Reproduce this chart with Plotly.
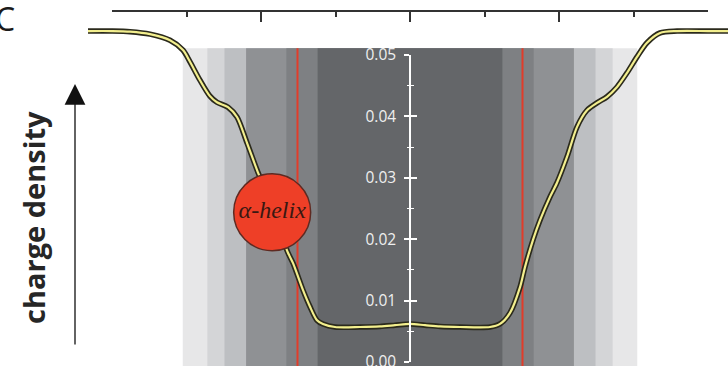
import plotly.graph_objects as go

# ---- data ----
# depth across the membrane (Å) and charge density
depth = [-43.22, -40.0, -37.58, -34.90, -32.21, -30.47, -29.53, -28.19, -26.85, -25.91,
         -24.43, -23.22, -21.88, -20.54, -19.46, -18.52, -17.45, -16.38, -15.70, -14.36,
         -13.42, -12.48, -11.68, -10.07, -6.71, -4.03, -2.01, 0.0, 2.01, 4.03,
         6.71, 10.74, 12.08, 13.42, 14.77, 15.44, 16.51, 17.45, 18.79, 19.73,
         21.07, 22.42, 23.76, 25.10, 26.44, 27.79, 29.13, 30.47, 31.81, 33.56,
         35.84, 40.0, 42.68]
density = [0.0539, 0.0539, 0.0538, 0.0534, 0.0524, 0.0508, 0.0489, 0.0459, 0.0433, 0.0423,
           0.0415, 0.0399, 0.0357, 0.0313, 0.0280, 0.0248, 0.0212, 0.0178, 0.0161, 0.0117,
           0.0090, 0.0068, 0.0062, 0.0057, 0.0057, 0.0058, 0.0060, 0.0062, 0.0060, 0.0058,
           0.0057, 0.0057, 0.0062, 0.0080, 0.0122, 0.0155, 0.0199, 0.0231, 0.0269, 0.0292,
           0.0334, 0.0383, 0.0410, 0.0422, 0.0432, 0.0448, 0.0471, 0.0497, 0.0520, 0.0536,
           0.0539, 0.0539, 0.0539]

# membrane region bands (half-widths in Å) and their shades, outer -> inner
band_halfwidth = [30.5, 27.2, 24.9, 22.0, 16.6, 12.4]
band_color = ["#e7e7e8", "#d4d5d7", "#bdbfc2", "#8f9194", "#7e8083", "#646669"]
band_top = 0.0511
red_lines = [-15.1, 15.1]

helix_pos = (-18.5, 0.0244)
helix_label = "α-helix"

density_ticks = [0.00, 0.01, 0.02, 0.03, 0.04, 0.05]

# ---- figure ----
W, H = 728, 366
X_RANGE = [-55.03, 42.68]
Y_RANGE = [-0.00065, 0.05896]

fig = go.Figure()

# density profile: dark outline + yellow core
fig.add_trace(go.Scatter(x=depth, y=density, mode="lines",
                         line=dict(color="#2b2a1c", width=5.5, shape="spline", smoothing=0.8),
                         hoverinfo="skip"))
fig.add_trace(go.Scatter(x=depth, y=density, mode="lines",
                         line=dict(color="#f3ef8e", width=2.2, shape="spline", smoothing=0.8),
                         hoverinfo="skip"))

# alpha-helix marker
fig.add_trace(go.Scatter(x=[helix_pos[0]], y=[helix_pos[1]], mode="markers+text",
                         marker=dict(size=77, color="#ee3f27",
                                     line=dict(color="#5e2a22", width=1.5)),
                         text=[helix_label], textposition="middle center",
                         textfont=dict(family="Liberation Serif", size=24,
                                       color="#3a1812", style="italic"),
                         hoverinfo="skip"))

# dummy traces to make the decorative axes render
fig.add_trace(go.Scatter(x=[None], y=[None], xaxis="x2", yaxis="y", showlegend=False))
fig.add_trace(go.Scatter(x=[None], y=[None], xaxis="x", yaxis="y2", showlegend=False))
fig.add_trace(go.Scatter(x=[None], y=[None], xaxis="x", yaxis="y3", showlegend=False))

shapes = []
for hw, col in zip(band_halfwidth, band_color):
    shapes.append(dict(type="rect", xref="x", yref="y", x0=-hw, x1=hw,
                       y0=Y_RANGE[0] - 0.001, y1=band_top,
                       fillcolor=col, line=dict(width=0), layer="below"))
for xr in red_lines:
    shapes.append(dict(type="line", xref="x", yref="y", x0=xr, x1=xr,
                       y0=Y_RANGE[0] - 0.001, y1=band_top,
                       line=dict(color="#e23c2a", width=2), layer="below"))

annotations = [
    dict(text="C", xref="paper", yref="paper", x=5 / W, y=1 - 18 / H,
         xanchor="center", yanchor="middle", showarrow=False,
         font=dict(family="Open Sans", size=32, color="#1a1a1a")),
    dict(text="charge density", xref="paper", yref="paper", x=33 / W, y=1 - 218 / H,
         xanchor="center", yanchor="middle", textangle=-90, showarrow=False,
         font=dict(family="Open Sans", size=29, color="#262626", weight="bold")),
    dict(text="", xref="paper", yref="paper", x=75 / W, y=1 - 84 / H,
         ax=0, ay=262, showarrow=True, arrowhead=2, arrowsize=3.2,
         arrowwidth=1.3, arrowcolor="#111111"),
]

axis_hidden = dict(visible=False, showgrid=False, zeroline=False, fixedrange=True,
                   automargin=False)

fig.update_layout(
    width=W, height=H,
    margin=dict(l=0, r=0, t=0, b=0, pad=0, autoexpand=False),
    paper_bgcolor="white", plot_bgcolor="rgba(0,0,0,0)",
    showlegend=False,
    xaxis=dict(domain=[0, 1], range=X_RANGE, **axis_hidden),
    yaxis=dict(domain=[0, 1], range=Y_RANGE, **axis_hidden),
    xaxis2=dict(domain=[112 / W, 708 / W], range=[-40, 40], anchor="free",
                position=1 - 11 / H, side="top", automargin=False,
                showline=True, linecolor="#333333", linewidth=1.5,
                ticks="inside", ticklen=10, tickwidth=1.5, tickcolor="#333333",
                tick0=0, dtick=20, showticklabels=False,
                showgrid=False, zeroline=False,
                minor=dict(ticks="inside", ticklen=5, tickwidth=1.5,
                           tickcolor="#333333", dtick=10, showgrid=False)),
    yaxis2=dict(domain=[4 / H, (H - 55) / H], range=[0, 0.05], anchor="free",
                position=410 / W, side="left", automargin=False,
                showline=True, linecolor="white", linewidth=1.5,
                ticks="outside", ticklen=5, tickwidth=1.5, tickcolor="white",
                tickvals=density_ticks, tickformat=".2f",
                tickfont=dict(family="Open Sans", size=15.5, color="#efefef"),
                ticklabelstandoff=5, ticklabeloverflow="allow",
                showgrid=False, zeroline=False,
                minor=dict(ticks="outside", ticklen=2.5, tickwidth=1.2,
                           tickcolor="white", dtick=0.005, showgrid=False)),
    yaxis3=dict(overlaying="y2", range=[0, 0.05], anchor="free",
                position=410 / W, side="left", automargin=False,
                showline=False, ticks="inside", ticklen=6, tickwidth=1.5,
                tickcolor="white", tickvals=density_ticks, showticklabels=False,
                showgrid=False, zeroline=False,
                minor=dict(ticks="inside", ticklen=2.5, tickwidth=1.2,
                           tickcolor="white", dtick=0.005, showgrid=False)),
    shapes=shapes,
    annotations=annotations,
)

fig.write_html("out.html")
